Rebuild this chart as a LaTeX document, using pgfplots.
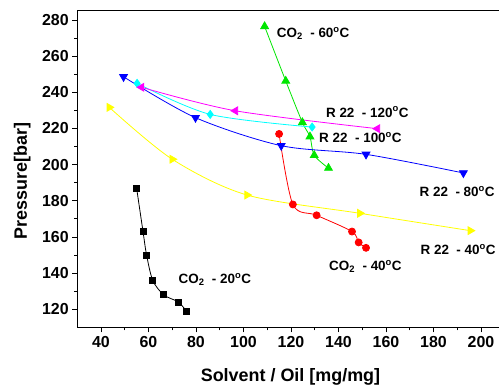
\documentclass[border=0pt]{standalone}
\usepackage{fontspec}
\setmainfont{Liberation Sans}
\usepackage{pgfplots}
\pgfplotsset{compat=1.18}
\definecolor{oblue}{RGB}{0,0,255}
\definecolor{ored}{RGB}{255,0,0}
\definecolor{ogreen}{RGB}{0,230,0}
\definecolor{ocyan}{RGB}{0,255,255}
\definecolor{omag}{RGB}{255,0,255}
\definecolor{oyel}{RGB}{255,255,0}
\newcommand{\lab}{\fontsize{13.5}{13.5}\selectfont\bfseries}
\begin{document}
\begin{tikzpicture}
\begin{axis}[
  scale only axis, width=421.8bp, height=316.4bp,
  xmin=30, xmax=207.6, ymin=110, ymax=285,
  axis x line*=box, axis y line*=left,
  xtick pos=left, ytick pos=left,
  xtick={40,60,...,200}, minor x tick num=1,
  ytick={120,140,...,280}, minor y tick num=1,
  tick align=outside, major tick length=5bp, minor tick length=3bp,
  tick style={black, line width=0.8bp},
  axis line style={line width=1bp},
  ticklabel style={font=\fontsize{16}{16}\selectfont\bfseries},
  /pgf/number format/assume math mode=true,
  xlabel={Solvent / Oil [mg/mg]}, ylabel={Pressure[bar]},
  label style={font=\fontsize{18}{18}\selectfont\bfseries},
  xlabel style={at={(axis description cs:0.5056,-0.1726)}, anchor=base},
  ylabel style={at={(axis description cs:-0.1197,0.463)}, anchor=base},
  clip=false,
  every axis plot/.append style={line width=0.8bp, smooth},
]
% CO2 20C
\addplot[black, mark=square*, mark size=3bp] coordinates {
(55,187) (57.7,163) (59.2,150) (61.8,136) (66.4,128) (72.6,124) (75.9,119)};
% CO2 40C
\addplot[ored, mark=*, mark size=3.5bp] coordinates {
(115,217) (120.8,178) (130.8,172) (145.7,163) (148.5,157) (151.6,154)};
% CO2 60C
\addplot[ogreen, mark=triangle*, mark size=4.5bp] coordinates {
(108.9,276.5) (117.8,246.3) (124.8,223.4) (128,215.5) (129.8,205.2) (135.8,198.1)};
% R22 80C
\addplot[oblue, mark=triangle*, mark size=4.5bp, mark options={rotate=180}] coordinates {
(49.5,248.6) (79.8,226) (115.9,210.5) (151.6,205.7) (192.6,195.4)};
% R22 100C
\addplot[ocyan, mark=diamond*, mark size=4bp] coordinates {
(55.2,245) (86,227.8) (128.9,220.8)};
% R22 120C
\addplot[omag, mark=triangle*, mark size=4.5bp, mark options={rotate=90}] coordinates {
(57.1,242.8) (96.6,229.8) (156.4,219.9)};
% R22 40C
\addplot[oyel, mark=triangle*, mark size=4.5bp, mark options={rotate=-90}] coordinates {
(43.5,231.7) (70,203) (101.5,183.2) (149,173.1) (195.5,163.5)};
\node[anchor=base west, inner sep=0pt] at (axis cs:114,270.5) {\lab CO\textsubscript{2}\ \ - 60\textsuperscript{o}C};
\node[anchor=base west, inner sep=0pt] at (axis cs:134.7,226.3) {\lab R 22\ \ - 120\textsuperscript{o}C};
\node[anchor=base west, inner sep=0pt] at (axis cs:131.8,212.2) {\lab R 22\ \ - 100\textsuperscript{o}C};
\node[anchor=base west, inner sep=0pt] at (axis cs:174.1,182.3) {\lab R 22\ \ - 80\textsuperscript{o}C};
\node[anchor=base west, inner sep=0pt] at (axis cs:174.5,150.1) {\lab R 22\ \ - 40\textsuperscript{o}C};
\node[anchor=base west, inner sep=0pt] at (axis cs:136,141.3) {\lab CO\textsubscript{2}\ \ - 40\textsuperscript{o}C};
\node[anchor=base west, inner sep=0pt] at (axis cs:72.6,134.1) {\lab CO\textsubscript{2}\ \ - 20\textsuperscript{o}C};
\end{axis}
\pgfresetboundingbox
\path ([shift={(-77.25bp,-57.6bp)}]current axis.south west) rectangle ([shift={(0bp,11bp)}]current axis.north east);
\end{tikzpicture}
\end{document}
